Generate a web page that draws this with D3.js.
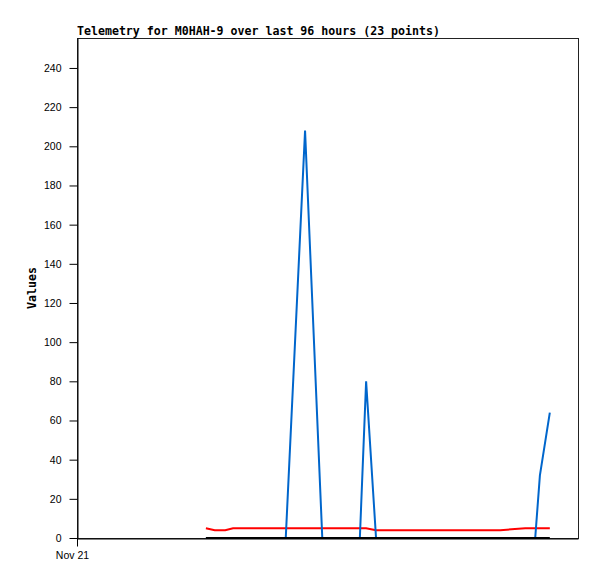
<!DOCTYPE html>
<html>
<head>
<meta charset="utf-8">
<script src="https://cdn.jsdelivr.net/npm/d3@7"></script>
<style>
  body { margin: 0; background: #fff; }
  .tick text { font-family: "Liberation Sans", Arial, sans-serif; font-size: 10.5px; fill: #000; }
  .mono { font-family: "DejaVu Sans Mono", monospace; font-weight: bold; font-size: 11.6px; }
</style>
</head>
<body>
<div id="chart"></div>
<script>
'use strict';

// hours since Nov 21 00:00
const hours = [24.7, 26.4, 28.4, 29.9, 33.2, 36.6, 40.0, 43.7, 47.0, 50.4, 54.2, 55.4,
               57.3, 60.9, 64.8, 68.6, 72.4, 76.3, 81.1, 85.9, 87.8, 88.7, 90.6];
const redValues = [5, 4, 4, 5, 5, 5, 5, 5, 5, 5, 5, 5,
                   4, 4, 4, 4, 4, 4, 4, 5, 5, 5, 5];
const blueValues = [0, 0, 0, 0, 0, 0, 0, 208, 0, 0, 0, 80,
                    0, 0, 0, 0, 0, 0, 0, 0, 0, 32, 64];
const blackValues = [0, 0, 0, 0, 0, 0, 0, 0, 0, 0, 0, 0,
                     0, 0, 0, 0, 0, 0, 0, 0, 0, 0, 0];
const yTicks = [0, 20, 40, 60, 80, 100, 120, 140, 160, 180, 200, 220, 240];
const startDate = new Date(2023, 10, 21);
const spanHours = 96;
const yMax = 255.3;

const width = 597,
      height = 579;
const margin = {'top': 38, 'right': 19, 'bottom': 41, 'left': 77};

const svg = d3.select('#chart')
              .append('svg')
              .attr('width', width)
              .attr('height', height);

const x = d3.scaleTime()
            .domain([startDate, d3.timeHour.offset(startDate, spanHours)])
            .range([margin.left, width - margin.right]);
const y = d3.scaleLinear()
            .domain([0, yMax])
            .range([height - margin.bottom, margin.top]);

const dates = hours.map(function(h) {
    return new Date(startDate.getTime() + h * 3600 * 1000);
});

// frame
svg.append('rect')
   .attr('x', margin.left + 0.5)
   .attr('y', margin.top + 0.5)
   .attr('width', width - margin.left - margin.right)
   .attr('height', height - margin.top - margin.bottom)
   .attr('fill', 'none')
   .attr('stroke', '#222');

// y axis
let yAxis = svg.append('g')
               .attr('transform', 'translate(' + (margin.left + 0.5) + ',0)')
               .call(d3.axisLeft(y).tickValues(yTicks).tickSize(8).tickSizeOuter(0).tickPadding(8));
yAxis.select('.domain').attr('stroke', '#000');
yAxis.selectAll('.tick line').attr('stroke', '#000');

// x axis
let xAxis = svg.append('g')
               .attr('transform', 'translate(0,' + (height - margin.bottom + 0.5) + ')')
               .call(d3.axisBottom(x).tickValues([startDate]).tickSize(8).tickSizeOuter(0).tickPadding(5)
                       .tickFormat(d3.timeFormat('%b %d')));
xAxis.select('.domain').attr('stroke', '#000');
xAxis.selectAll('.tick line').attr('stroke', '#000');
xAxis.selectAll('.tick text').attr('dx', -5);

function drawSeries(values, color, w) {
    let line = d3.line()
                 .x(function(d, i) { return x(dates[i]); })
                 .y(function(d) { return y(d); });
    svg.append('path')
       .datum(values)
       .attr('d', line)
       .attr('fill', 'none')
       .attr('stroke', color)
       .attr('stroke-width', w);
}

drawSeries(redValues, '#ff0000', 2);
drawSeries(blueValues, '#0066cc', 2);
drawSeries(blackValues, '#000000', 2);

// title
svg.append('text')
   .attr('class', 'mono')
   .attr('x', margin.left)
   .attr('y', 35)
   .text('Telemetry for M0HAH-9 over last 96 hours (23 points)');

// y label
svg.append('text')
   .attr('class', 'mono')
   .attr('transform', 'translate(36,' + (margin.top + (height - margin.top - margin.bottom) / 2) + ') rotate(-90)')
   .attr('text-anchor', 'middle')
   .text('Values');
</script>
</body>
</html>
